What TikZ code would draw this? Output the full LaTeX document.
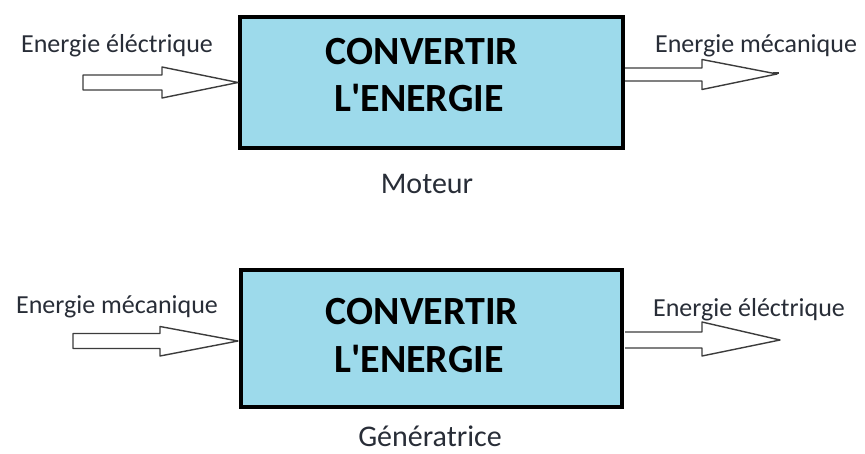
\documentclass[tikz,border=0pt]{standalone}
\usepackage{fontspec}
\setmainfont{Carlito}
\definecolor{boxblue}{RGB}{157,218,235}
\definecolor{labelgray}{RGB}{40,45,55}
\definecolor{arrowgray}{RGB}{60,60,60}
\tikzset{
  convbox/.style={draw=black, line width=4pt, fill=boxblue, inner sep=0pt},
  boxtext/.style={font=\bfseries\fontsize{40}{48}\selectfont, text=black, anchor=base, inner sep=0pt},
  energylabel/.style={font=\fontsize{26}{30}\selectfont, text=labelgray, anchor=base, inner sep=0pt},
  modelabel/.style={font=\fontsize{30}{34}\selectfont, text=labelgray, anchor=base, inner sep=0pt},
  fatarrow/.style={draw=arrowgray, line width=1.4pt, fill=white, line join=round}
}
\begin{document}
\begin{tikzpicture}[x=1pt, y=-1pt]
\useasboundingbox (0,0) rectangle (865,454);

% ---------- motor ----------
\node[convbox, minimum width=383pt, minimum height=131pt] (motor) at (431.5,82.5) {};
\node[boxtext] (motorA) at (422,65) {CONVERTIR};
\node[boxtext] (motorB) at (419,112) {L\textquotesingle ENERGIE};
\node[modelabel] (motorname) at (427,194) {Moteur};

\node[energylabel] (motorin) at (117,53) {Energie éléctrique};
\node[energylabel] (motorout) at (756,53) {Energie mécanique};

% input arrow: tip on the west side of the box
\coordinate (mi) at (238,82.5);
\draw[fatarrow] (mi) -- ++(-76,-15.5) -- ++(0,8) -- ++(-79,0) -- ++(0,15) -- ++(79,0) -- ++(0,8) -- cycle;
% output arrow: leaving the east side of the box
\coordinate (mo) at (625,74.5);
\draw[fatarrow] (mo) ++(0,-6.5) -- ++(77,0) -- ++(0,-8.5) -- ++(75,14.5) -- ++(-75,15.5) -- ++(0,-8.5) -- ++(-77,0);
\draw[arrowgray, line width=1.4pt] (mo) ++(148,-1.5) -- ++(6,0);

% ---------- generator ----------
\node[convbox, minimum width=381pt, minimum height=137pt] (gen) at (431.5,338.5) {};
\node[boxtext] (genA) at (422,325) {CONVERTIR};
\node[boxtext] (genB) at (419,372) {L\textquotesingle ENERGIE};
\node[modelabel] (genname) at (430,446) {Génératrice};

\node[energylabel] (genin) at (117,314) {Energie mécanique};
\node[energylabel] (genout) at (749,317) {Energie éléctrique};

\coordinate (gi) at (238,341);
\draw[fatarrow] (gi) -- ++(-78,-14.5) -- ++(0,7) -- ++(-87,0) -- ++(0,15) -- ++(87,0) -- ++(0,7.5) -- cycle;
\coordinate (go) at (625,340);
\draw[fatarrow] (go) ++(0,-8) -- ++(77,0) -- ++(0,-10) -- ++(78,18) -- ++(-78,16) -- ++(0,-8) -- ++(-77,0);

\end{tikzpicture}
\end{document}
